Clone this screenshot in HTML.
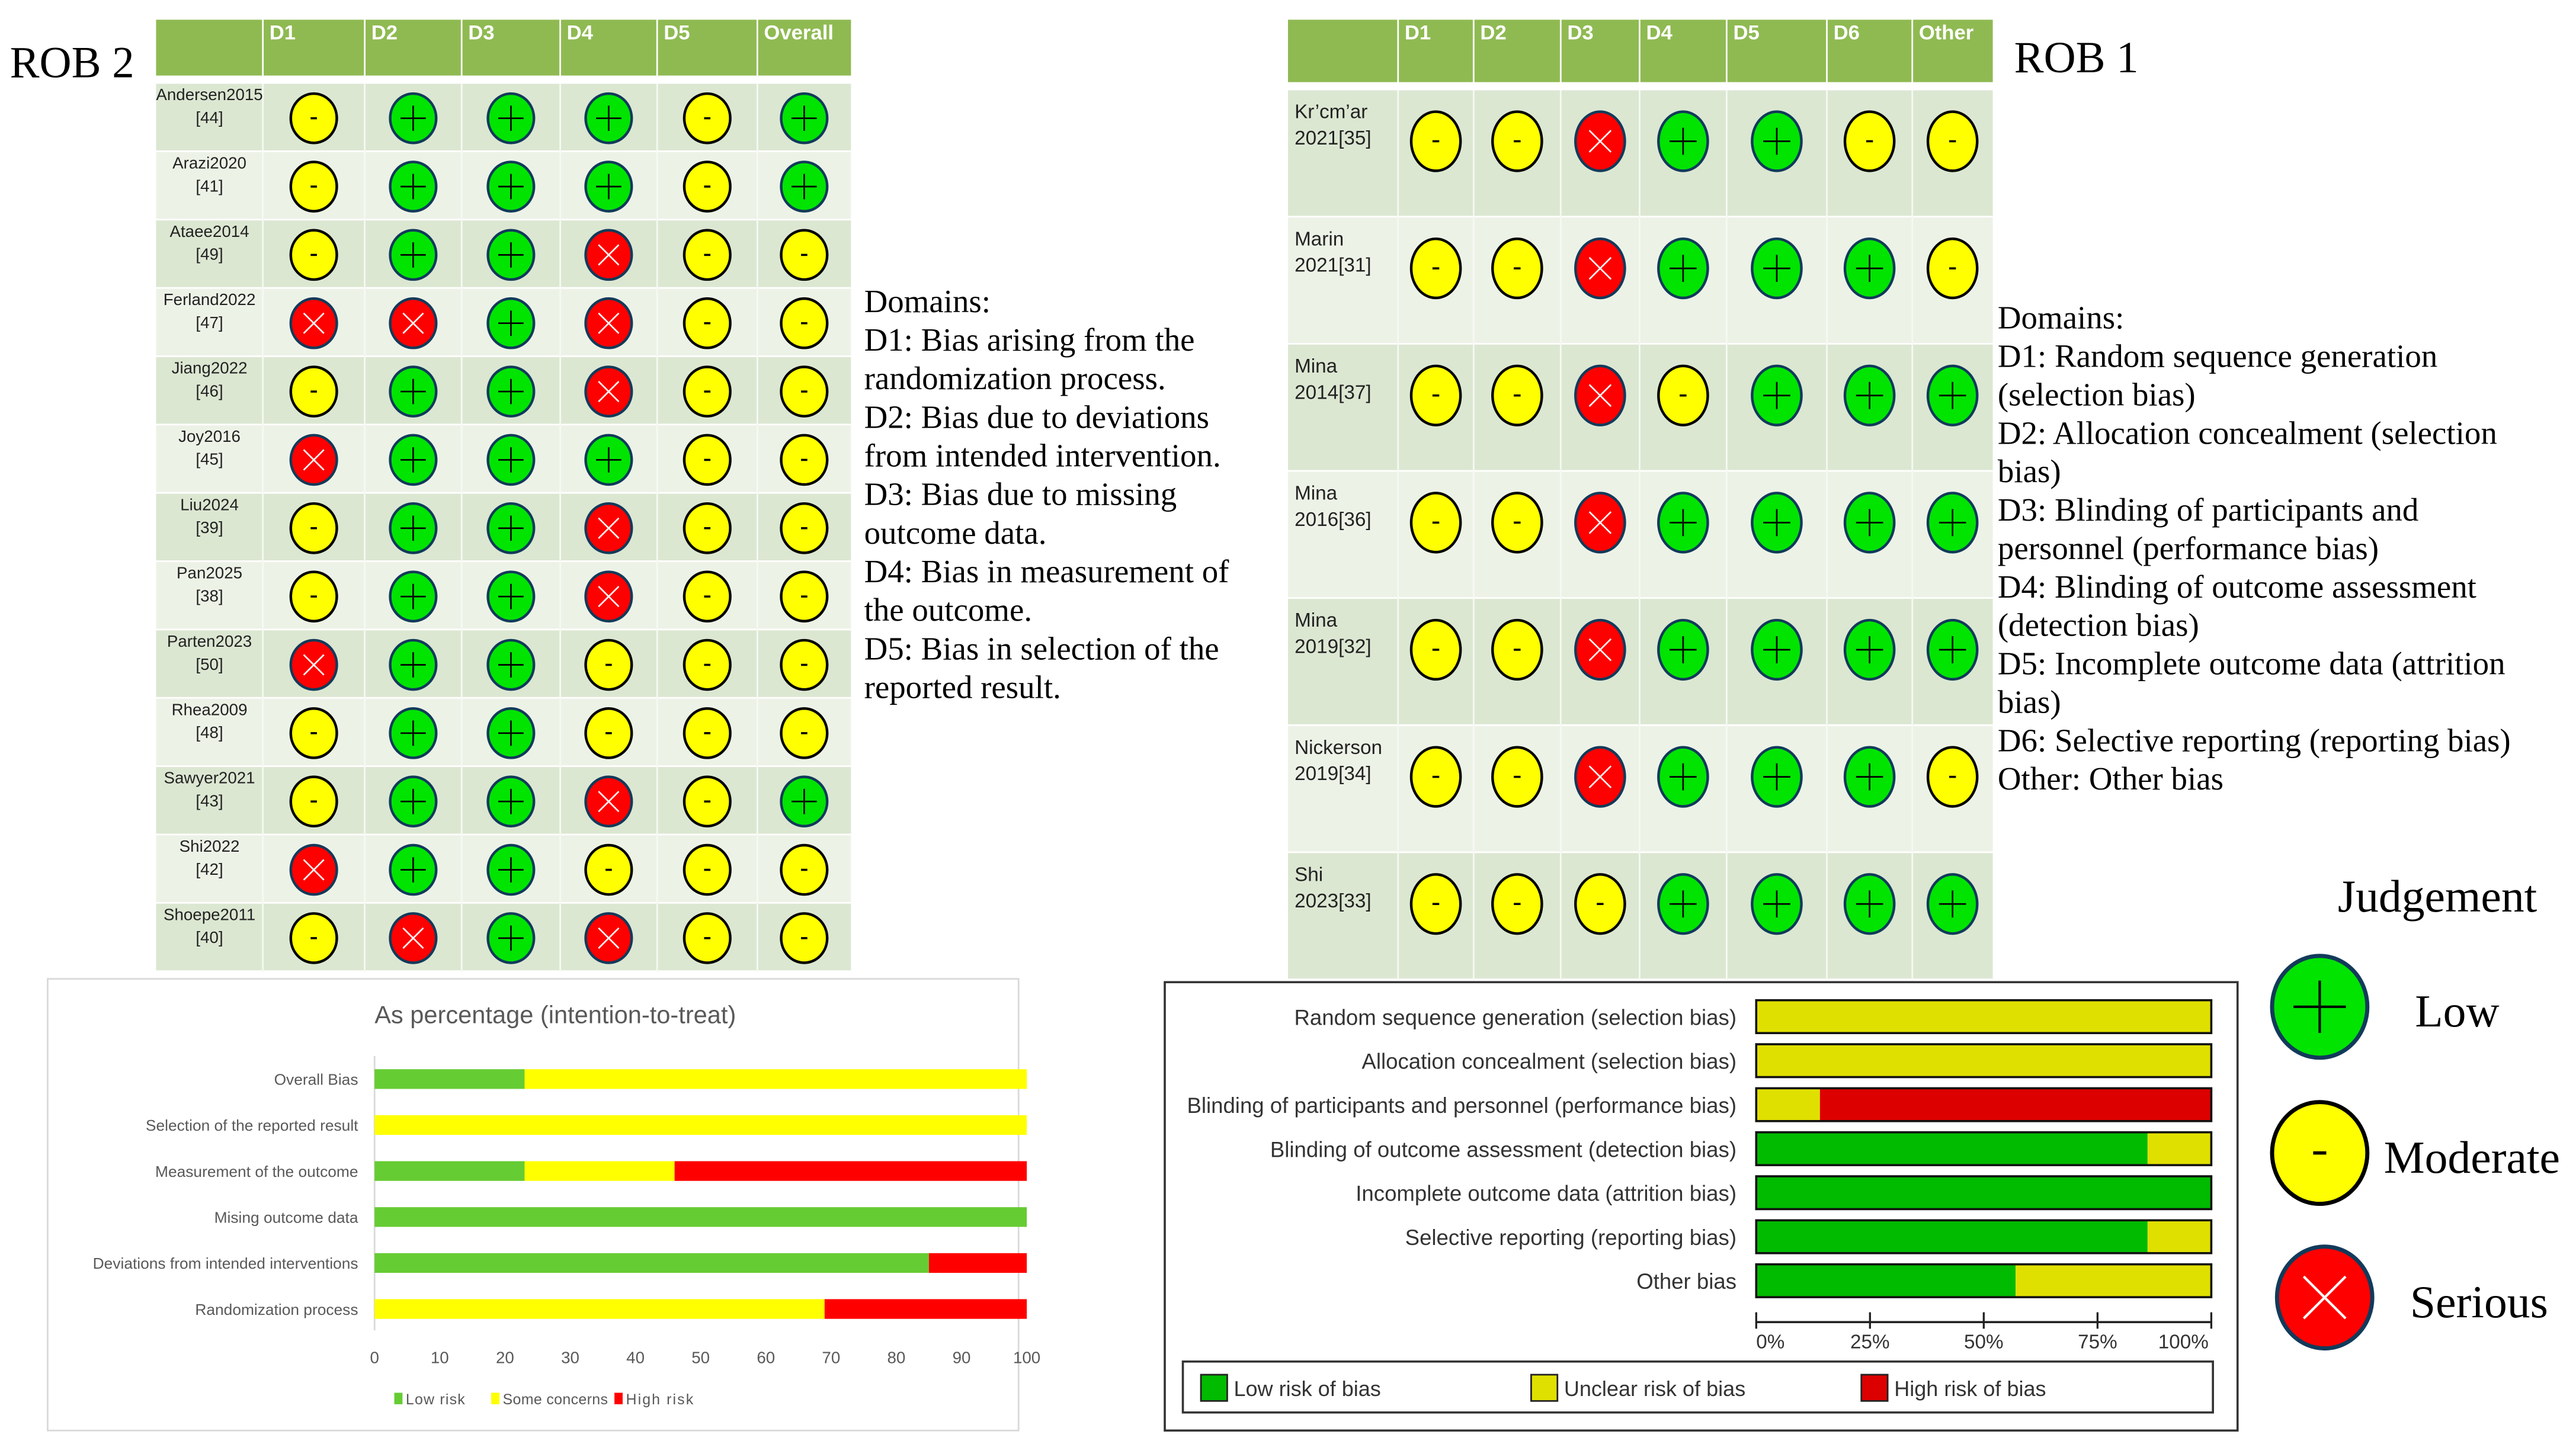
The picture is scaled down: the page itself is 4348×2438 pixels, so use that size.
<!DOCTYPE html>
<html><head><meta charset="utf-8"><style>
html,body{margin:0;padding:0;background:#fff;}
svg{display:block;}
.serif{font-family:"Liberation Serif",serif;fill:#000;}
.sans{font-family:"Liberation Sans",sans-serif;}
</style></head><body>
<svg id="fig" xmlns="http://www.w3.org/2000/svg" width="4348" height="2438" viewBox="0 0 1568 879.2">
<rect width="1568" height="880" fill="#fff"/>
<text class="serif" x="6" y="47" font-size="27">ROB 2</text>
<text class="serif" x="1226" y="44" font-size="27">ROB 1</text>
<g id="t2"></g><g id="t1"></g><g id="dom2"></g><g id="dom1"></g>
<g id="c2"></g><g id="c1"></g><g id="judg"></g>
</svg>
<script>
// ---------- data ----------
const rob2Studies=["Andersen2015|[44]","Arazi2020|[41]","Ataee2014|[49]","Ferland2022|[47]","Jiang2022|[46]","Joy2016|[45]","Liu2024|[39]","Pan2025|[38]","Parten2023|[50]","Rhea2009|[48]","Sawyer2021|[43]","Shi2022|[42]","Shoepe2011|[40]"];
const rob2Cols=["D1","D2","D3","D4","D5","Overall"];
const rob2Judg=["ygggyg","ygggyg","yggryy","rrgryy","yggryy","rgggyy","yggryy","yggryy","rggyyy","yggyyy","yggryg","rggyyy","yrgryy"];
const rob1Studies=["Kr’cm’ar|2021[35]","Marin|2021[31]","Mina|2014[37]","Mina|2016[36]","Mina|2019[32]","Nickerson|2019[34]","Shi|2023[33]"];
const rob1Cols=["D1","D2","D3","D4","D5","D6","Other"];
const rob1Judg=["yyrggyy","yyrgggy","yyryggg","yyrgggg","yyrgggg","yyrgggy","yyygggg"];
const c2Cats=["Overall Bias","Selection of the reported result","Measurement of the outcome","Mising outcome data","Deviations from intended interventions","Randomization process"];
const c2Low=[23,0,23,100,85,0];
const c2Some=[77,100,23,0,0,69];
const c2High=[0,0,54,0,15,31];
const c2Ticks=[0,10,20,30,40,50,60,70,80,90,100];
const c1Cats=["Random sequence generation (selection bias)","Allocation concealment (selection bias)","Blinding of participants and personnel (performance bias)","Blinding of outcome assessment (detection bias)","Incomplete outcome data (attrition bias)","Selective reporting (reporting bias)","Other bias"];
const c1Low=[0,0,0,86,100,86,57];
const c1Unclear=[100,100,14,14,0,14,43];
const c1High=[0,0,86,0,0,0,0];
const c1Ticks=["0%","25%","50%","75%","100%"];
const dom2=["Domains:","D1: Bias arising from the","randomization process.","D2: Bias due to deviations","from intended intervention.","D3: Bias due to missing","outcome data.","D4: Bias in measurement of","the outcome.","D5: Bias in selection of the","reported result."];
const dom1=["Domains:","D1: Random sequence generation","(selection bias)","D2: Allocation concealment (selection","bias)","D3: Blinding of participants and","personnel (performance bias)","D4: Blinding of outcome assessment","(detection bias)","D5: Incomplete outcome data (attrition","bias)","D6: Selective reporting (reporting bias)","Other: Other bias"];
// ---------- helpers ----------
const NS="http://www.w3.org/2000/svg";
function mk(tag,attrs,parent,txt){const e=document.createElementNS(NS,tag);for(const k in attrs)e.setAttribute(k,attrs[k]);if(txt!==undefined)e.textContent=txt;parent.appendChild(e);return e;}
const FILL={g:"#00e400",y:"#ffff00",r:"#ff0000"};
function symbol(p,cx,cy,rx,ry,j,sw){
  const g=mk("g",{},p);
  
  
  mk("ellipse",{cx:cx,cy:cy,rx:rx,ry:ry,fill:FILL[j],stroke:j==="y"?"#000":"#123a5a","stroke-width":sw},g);
  const s=rx*0.55;
  if(j==="g"){mk("path",{d:`M${cx-s} ${cy}H${cx+s}M${cx} ${cy-s}V${cy+s}`,stroke:"#000","stroke-width":sw*0.6},g);}
  else if(j==="y"){mk("rect",{x:cx-s*0.25,y:cy-sw*0.4,width:s*0.5,height:sw*0.8,fill:"#000"},g);}
  else {const t=s*0.8;mk("path",{d:`M${cx-t} ${cy-t}L${cx+t} ${cy+t}M${cx+t} ${cy-t}L${cx-t} ${cy+t}`,stroke:"#fff","stroke-width":sw*0.6},g);}
}
function table(gid,x0,colEdges,hdrTop,hdrBot,rowTop,rowH,studies,cols,judg,rx,ry,cyOff,labelSize,align){
  const g=document.getElementById(gid);
  const right=colEdges[colEdges.length-1];
  const hdr=mk("rect",{x:x0,y:hdrTop,width:right-x0,height:hdrBot-hdrTop,fill:"#8fba52"},g);
  
  
  const all=[x0].concat(colEdges);
  cols.forEach((c,i)=>{
    const t=mk("text",{x:all[i+1]+4,y:hdrTop+12,"font-size":12.5,"font-weight":"bold",fill:"#fff",class:"sans"},g,c);
    
    
  });
  for(let i=1;i<all.length-1;i++)mk("line",{x1:all[i],x2:all[i],y1:hdrTop,y2:rowTop+rowH*studies.length,stroke:"#fff","stroke-width":1},g);
  studies.forEach((s,r)=>{
    const y=rowTop+r*rowH;
    const bg=mk("rect",{x:x0,y:y,width:right-x0,height:rowH-1,fill:r%2?"#edf2e7":"#dce7d2"},g);
    
    
    for(let i=1;i<all.length-1;i++)mk("line",{x1:all[i],x2:all[i],y1:y,y2:y+rowH,stroke:"#f6f9f3","stroke-width":1},g);
    const parts=s.split("|");
    parts.forEach((p,k)=>{
      const lx=align==="middle"?(x0+all[1])/2:x0+4;
      const t=mk("text",{x:lx,y:y+(align==="middle"?10:17)+k*(align==="middle"?14:16),"font-size":labelSize,"text-anchor":align,fill:"#222",class:"sans"},g,p);
      
      
    });
    judg[r].split("").forEach((j,c)=>{
      const cx=(all[c+1]+all[c+2])/2;
      symbol(g,cx,y+cyOff,rx,ry,j,1.6);
    });
  });
}
table("t2",95,[160,222,281,341,400,461,518],12,46,51,41.6,rob2Studies,rob2Cols,rob2Judg,14,15,21,10,"middle");
table("t1",784,[851,897,950,998,1051,1112,1164,1213],12,50,55,77.4,rob1Studies,rob1Cols,rob1Judg,15,18,31,12,"start");
function lines(gid,x,y0,dy,arr,name){
  const g=document.getElementById(gid);
  arr.forEach((l,i)=>{const t=mk("text",{x:x,y:y0+i*dy,"font-size":19.8,class:"serif"},g,l);
    
    });
}
lines("dom2",526,190,23.5,dom2,"rob2-domain-line");
lines("dom1",1216,200,23.4,dom1,"rob1-domain-line");
// ---------- chart 2 (ROB2 percentage) ----------
(function(){
  const g=document.getElementById("c2");
  const box=mk("rect",{x:29,y:596,width:591,height:275,fill:"#fff",stroke:"#d9d9d9","stroke-width":1},g);
  
  
  const tt=mk("text",{x:338,y:623,"font-size":15,"text-anchor":"middle",fill:"#595959",class:"sans"},g,"As percentage (intention-to-treat)");
  
  
  const X=v=>228+v*(625-228)/100;
  const Y=i=>657+i*28;
  mk("line",{x1:228,x2:228,y1:643,y2:810,stroke:"#d9d9d9"},g);
  c2Cats.forEach((c,i)=>{
    const t=mk("text",{x:218,y:Y(i)+3.5,"font-size":9.5,"text-anchor":"end",fill:"#595959",class:"sans"},g,c);
    
    
    const segs=[[c2Low[i],"#66cc33","bar-low"],[c2Some[i],"#ffff00","bar-some"],[c2High[i],"#ff0000","bar-high"]];
    let acc=0;
    segs.forEach(s=>{if(s[0]>0){const r=mk("rect",{x:X(acc),y:Y(i)-6,width:X(acc+s[0])-X(acc),height:12,fill:s[1]},g);
      
      }acc+=s[0];});
  });
  c2Ticks.forEach(v=>{const t=mk("text",{x:X(v),y:830,"font-size":10,"text-anchor":"middle",fill:"#595959",class:"sans"},g,v);
    
    });
  [["#66cc33","Low risk",240,36],["#ffff00","Some concerns",299,64],["#ff0000","High risk",374,41]].forEach(l=>{
    const r=mk("rect",{x:l[2],y:848,width:5,height:7,fill:l[0]},g);
    
    
    const t=mk("text",{x:l[2]+7,y:855,"font-size":9,"textLength":l[3],fill:"#595959",class:"sans"},g,l[1]);
    
    
  });
})();
// ---------- chart 1 (ROB1 summary) ----------
(function(){
  const g=document.getElementById("c1");
  const box=mk("rect",{x:709,y:598,width:653,height:273,fill:"#fff",stroke:"#333","stroke-width":1.3},g);
  
  
  const X=v=>1069+v*(1346-1069)/100;
  const Y=i=>619+i*26.8;
  c1Cats.forEach((c,i)=>{
    const t=mk("text",{x:1057,y:Y(i)+5,"font-size":13.2,"text-anchor":"end",fill:"#333",class:"sans"},g,c);
    
    
    const segs=[[c1Low[i],"#00bb00","bar-low"],[c1Unclear[i],"#e0e000","bar-unclear"],[c1High[i],"#dd0000","bar-high"]];
    let acc=0;
    segs.forEach(s=>{if(s[0]>0){const r=mk("rect",{x:X(acc),y:Y(i)-10,width:X(acc+s[0])-X(acc),height:20,fill:s[1]},g);
      
      }acc+=s[0];});
    mk("rect",{x:X(0),y:Y(i)-10,width:X(100)-X(0),height:20,fill:"none",stroke:"#111","stroke-width":1.3},g);
  });
  mk("line",{x1:X(0),x2:X(100),y1:805,y2:805,stroke:"#222","stroke-width":1.3},g);
  c1Ticks.forEach((v,i)=>{const xv=X(i*25);
    mk("line",{x1:xv,x2:xv,y1:799,y2:809,stroke:"#222","stroke-width":1.2},g);
    const t=mk("text",{x:i===0?xv:(i===4?xv-17:xv),y:821,"font-size":12,"text-anchor":i===0?"start":"middle",fill:"#333",class:"sans"},g,v);
    
    });
  const lb=mk("rect",{x:720,y:829,width:627,height:31,fill:"#fff",stroke:"#333","stroke-width":1.3},g);
  
  
  [["#00bb00","Low risk of bias",731],["#e0e000","Unclear risk of bias",932],["#dd0000","High risk of bias",1133]].forEach(l=>{
    const r=mk("rect",{x:l[2],y:837,width:16,height:16,fill:l[0],stroke:"#222","stroke-width":1},g);
    
    
    const t=mk("text",{x:l[2]+20,y:850,"font-size":13,fill:"#333",class:"sans"},g,l[1]);
    
    
  });
})();
// ---------- judgement legend ----------
(function(){
  const g=document.getElementById("judg");
  const t=mk("text",{x:1423,y:555,"font-size":28,class:"serif"},g,"Judgement");
  
  
  [["g","Low",1412,613,1470],["y","Moderate",1412,702,1451],["r","Serious",1415,790,1467]].forEach(a=>{
    symbol(g,a[2],a[3],29,31,a[0],2.5);
    const l=mk("text",{x:a[4],y:a[3]+12,"font-size":28,class:"serif"},g,a[1]);
    
    
  });
})();
</script>
</body></html>
